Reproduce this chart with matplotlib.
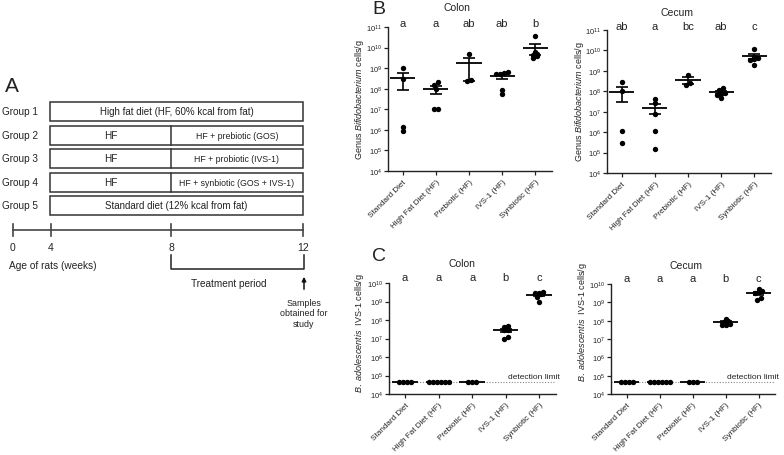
import numpy as np
import matplotlib.pyplot as plt

plt.rcParams['font.family'] = ['Liberation Sans', 'DejaVu Sans']
plt.rcParams['mathtext.fontset'] = 'custom'
plt.rcParams['mathtext.rm'] = 'Liberation Sans'
plt.rcParams['mathtext.it'] = 'Liberation Sans:italic'
plt.rcParams['text.color'] = '#222222'

# ---- panel A (study design) ----
groups = ['Group 1', 'Group 2', 'Group 3', 'Group 4', 'Group 5']
phase1 = ['High fat diet (HF, 60% kcal from fat)', 'HF', 'HF', 'HF',
          'Standard diet (12% kcal from fat)']
phase2 = [None, 'HF + prebiotic (GOS)', 'HF + probiotic (IVS-1)',
          'HF + synbiotic (GOS + IVS-1)', None]
weeks = [0, 4, 8, 12]

# ---- panels B and C ----
categories = ['Standard Diet', 'High Fat Diet (HF)', 'Prebiotic (HF)', 'IVS-1 (HF)', 'Synbiotic (HF)']

b_colon = [[1.0e9, 3.0e8, 9.3e5, 1.4e6],
           [2.1e8, 1.6e8, 1.0e8, 1.0e7, 1.0e7],
           [4.8e9, 2.3e8, 2.6e8],
           [6.5e8, 5.0e8, 5.4e8, 5.8e8, 8.5e7, 5.4e7],
           [3.5e10, 6.2e9, 4.3e9, 3.0e9, 3.9e9, 4.7e9]]
b_colon_letters = ['a', 'a', 'ab', 'ab', 'b']

b_cecum = [[2.75e8, 1.0e8, 1.15e6, 3.0e5],
           [4.2e7, 2.8e7, 8.0e6, 1.15e6, 1.5e5],
           [6.0e8, 2.5e8, 2.0e8],
           [1.15e8, 1.5e8, 8.0e7, 6.5e7, 4.5e7, 7.0e7],
           [1.2e10, 5.0e9, 4.5e9, 4.0e9, 3.5e9, 2.0e9]]
b_cecum_letters = ['ab', 'a', 'bc', 'ab', 'c']

detection_limit = 4.5e4
c_colon = [[detection_limit] * 4,
           [detection_limit] * 6,
           [detection_limit] * 3,
           [4.5e7, 4.3e7, 3.0e7, 3.0e7, 9.3e6, 1.26e7],
           [2.8e9, 2.5e9, 2.8e9, 3.3e9, 1.0e9, 1.8e9]]
c_cecum = [[detection_limit] * 4,
           [detection_limit] * 6,
           [detection_limit] * 3,
           [1.2e8, 1.0e8, 8.0e7, 7.0e7, 5.5e7, 6.0e7],
           [5.5e9, 3.5e9, 4.0e9, 3.2e9, 1.4e9, 1.7e9]]
c_letters = ['a', 'a', 'a', 'b', 'c']

W, H = 784, 456
fig = plt.figure(figsize=(W / 100, H / 100), dpi=100)

# overlay in pixel coordinates for the diagram and free text
ov = fig.add_axes([0, 0, 1, 1])
ov.set_xlim(0, W)
ov.set_ylim(H, 0)
ov.axis('off')

edge = '#333333'
ov.text(5, 86, 'A', fontsize=15, va='center', ha='left')
box_l, box_r, box_mid = 50, 303, 171
row_top = [103, 127, 150, 174, 197]
row_h = 18.5
for g, p1, p2, top in zip(groups, phase1, phase2, row_top):
    cy = top + row_h / 2
    ov.text(2, cy, g, fontsize=7.2, va='center', ha='left')
    ov.add_patch(plt.Rectangle((box_l, top), box_r - box_l, row_h, fill=False, ec=edge, lw=1.1))
    if p2 is None:
        ov.text((box_l + box_r) / 2, cy, p1, fontsize=7, ha='center', va='center')
    else:
        ov.plot([box_mid, box_mid], [top, top + row_h], color=edge, lw=1.1)
        ov.text((box_l + box_mid) / 2, cy, p1, fontsize=7.2, ha='center', va='center')
        ov.text((box_mid + box_r) / 2, cy, p2, fontsize=6.3, ha='center', va='center')

# timeline (schematic, not to scale)
week_px = [13, 51, 171, 303]
ty = 231
ov.plot([week_px[0], week_px[-1]], [ty, ty], color='#444444', lw=1.2)
for wk, px in zip(weeks, week_px):
    ov.plot([px, px], [ty - 6, ty + 6], color='#444444', lw=1.2)
    ov.text(px, 248, str(wk), fontsize=7.5, ha='center', va='center')
ov.text(9, 266, 'Age of rats (weeks)', fontsize=7.3, ha='left', va='center')
ov.plot([week_px[2], week_px[2], week_px[3] + 1, week_px[3] + 1], [256, 270, 270, 256],
        color='#222222', lw=1.1)
ov.text(229, 284, 'Treatment period', fontsize=7.2, ha='center', va='center')
ov.annotate('', xy=(week_px[3] + 1, 275), xytext=(week_px[3] + 1, 293),
            arrowprops=dict(arrowstyle='-|>', color='#111111', lw=1.1, mutation_scale=6))
ov.text(week_px[3] + 1, 314, 'Samples\nobtained for\nstudy', fontsize=6.4,
        ha='center', va='center', linespacing=1.25)

ov.text(379, 10, 'B', fontsize=14, ha='center', va='center')
ov.text(379, 257, 'C', fontsize=14, ha='center', va='center')


def swarm(vals, step=0.12, tol=0.15):
    logv = np.log10(vals)
    order = np.argsort(logv, kind='stable')
    offs = np.zeros(len(vals))
    clusters = []
    for idx in order:
        if clusters and logv[idx] - logv[clusters[-1][0]] < tol:
            clusters[-1].append(idx)
        else:
            clusters.append([idx])
    for c in clusters:
        n = len(c)
        for k, idx in enumerate(c):
            offs[idx] = (k - (n - 1) / 2) * step
    return offs


def px_rect(x0, y0, x1, y1):
    return [x0 / W, 1 - y1 / H, (x1 - x0) / W, (y1 - y0) / H]


def dot_panel(rect, data, letters, lo, hi, xlim, letter_off, detect=False):
    ax = fig.add_axes(rect)
    ax.set_yscale('log')
    ax.set_ylim(10 ** lo, 10 ** hi)
    ax.set_xlim(*xlim)
    for i, vals in enumerate(data):
        vals = np.array(vals)
        ax.scatter(i + swarm(vals), vals, s=15, color='black', linewidths=0, zorder=3, clip_on=False)
        m = vals.mean()
        se = vals.std(ddof=1) / np.sqrt(len(vals))
        ax.hlines(m, i - 0.38, i + 0.38, color='black', lw=1.3, zorder=4)
        if se > 0:
            ax.vlines(i, m - se, m + se, color='black', lw=1.2, zorder=4)
            ax.hlines([m - se, m + se], i - 0.18, i + 0.18, color='black', lw=1.2, zorder=4)
        ax.annotate(letters[i], (i, 10 ** hi), xytext=(0, letter_off), textcoords='offset points',
                    ha='center', va='baseline', fontsize=8, annotation_clip=False)
    if detect:
        ax.axhline(detection_limit, color='#888888', ls=(0, (1, 1.5)), lw=0.8, zorder=1)
        ax.annotate('detection limit', (xlim[1], detection_limit), xytext=(3, 1.5),
                    textcoords='offset points', ha='right', va='bottom', fontsize=6,
                    annotation_clip=False)
    ticks = [10.0 ** k for k in range(lo, hi + 1)]
    ax.set_yticks(ticks)
    ax.set_yticklabels([r'$10^{%d}$' % k for k in range(lo, hi + 1)], fontsize=5.4)
    ax.minorticks_off()
    ax.set_xticks(range(len(categories)))
    ax.set_xticklabels(categories, rotation=45, ha='right', rotation_mode='anchor', fontsize=5.9)
    for s in ['top', 'right']:
        ax.spines[s].set_visible(False)
    for s in ['left', 'bottom']:
        ax.spines[s].set_linewidth(1.0)
        ax.spines[s].set_color('#222222')
    ax.tick_params(axis='y', length=3, width=0.9, pad=1, colors='#222222')
    ax.tick_params(axis='x', length=3, width=0.9, pad=2, colors='#222222')
    return ax


dot_panel(px_rect(388, 28, 552, 172), b_colon, b_colon_letters, 4, 11, (-0.44, 4.5), 1)
dot_panel(px_rect(607, 31, 771, 174), b_cecum, b_cecum_letters, 4, 11, (-0.44, 4.5), 1)
dot_panel(px_rect(389, 284, 556, 395), c_colon, c_letters, 4, 10, (-0.48, 4.5), 2.5, detect=True)
dot_panel(px_rect(611, 285, 775, 395), c_cecum, c_letters, 4, 10, (-0.48, 4.5), 2.5, detect=True)

# panel titles and axis labels
ov.text(457, 8, 'Colon', fontsize=7.5, ha='center', va='center')
ov.text(677, 13, 'Cecum', fontsize=7.5, ha='center', va='center')
ov.text(462, 264, 'Colon', fontsize=7.5, ha='center', va='center')
ov.text(686, 266, 'Cecum', fontsize=7.5, ha='center', va='center')

lab_b = r'Genus $\mathit{Bifidobacterium}$ cells/g'
lab_c = r'$\mathit{B.\ adolescentis}$  IVS-1 cells/g'
ov.text(360, 100, lab_b, rotation=90, fontsize=6.5, ha='center', va='center')
ov.text(580, 102, lab_b, rotation=90, fontsize=6.5, ha='center', va='center')
ov.text(360, 333, lab_c, rotation=90, fontsize=6.5, ha='center', va='center')
ov.text(583, 322, lab_c, rotation=90, fontsize=6.5, ha='center', va='center')

fig.savefig('out.png', dpi=100)
